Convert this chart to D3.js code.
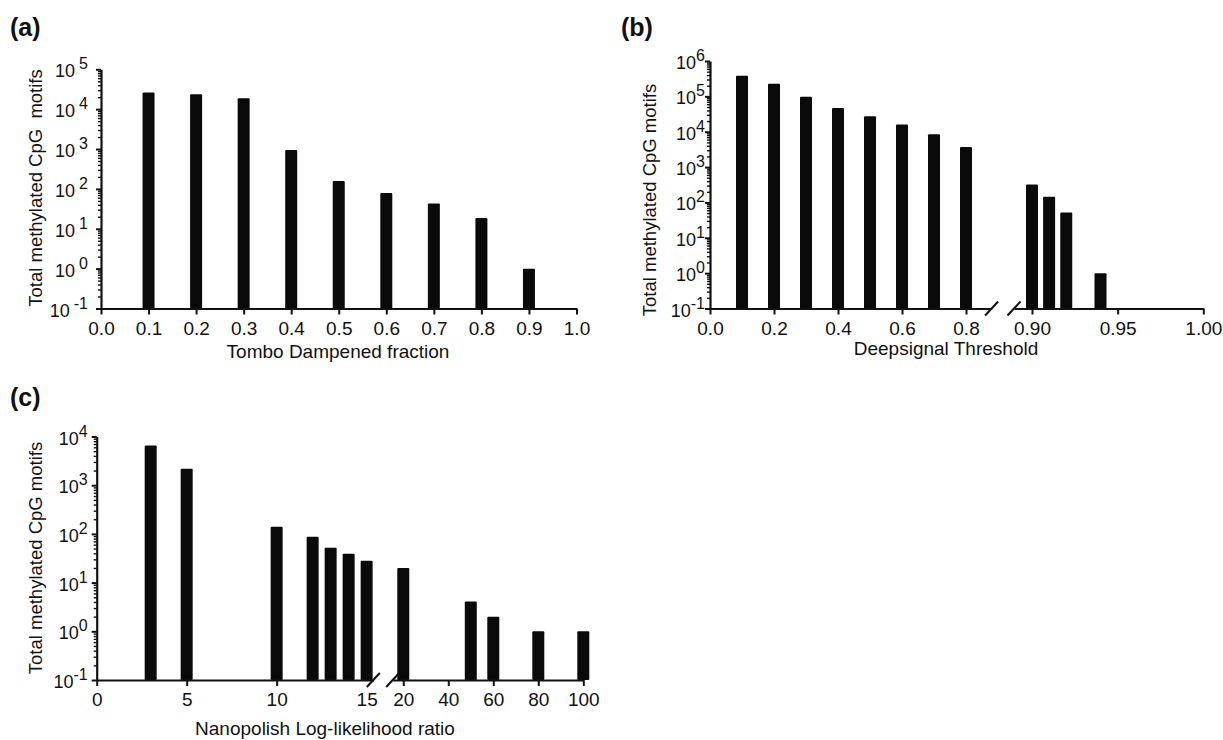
<!DOCTYPE html>
<html>
<head>
<meta charset="utf-8">
<script src="https://cdn.jsdelivr.net/npm/d3@7"></script>
<style>
    body { margin: 0; background: #fff; }
    svg text { font-family: "Liberation Sans", Arial, sans-serif; fill: #111; }
    .axis path, .axis line { stroke: #111; }
</style>
</head>
<body>
<svg id="chart" width="1223" height="740"></svg>
<script>
// (a) Tombo
var tomboX = [0.1, 0.2, 0.3, 0.4, 0.5, 0.6, 0.7, 0.8, 0.9];
var tomboCounts = [26000, 23700, 18800, 950, 158, 79, 43, 18.5, 1];
var tomboTicks = [0, 0.1, 0.2, 0.3, 0.4, 0.5, 0.6, 0.7, 0.8, 0.9, 1.0];
var tomboDecades = [-1, 0, 1, 2, 3, 4, 5];

// (b) Deepsignal
var deepX = [0.1, 0.2, 0.3, 0.4, 0.5, 0.6, 0.7, 0.8, 0.90, 0.91, 0.92, 0.94];
var deepCounts = [380000, 226000, 97000, 47000, 27500, 16000, 8500, 3700, 320, 145, 52, 1];
var deepTicksLow = [0, 0.2, 0.4, 0.6, 0.8];
var deepTicksHigh = [0.90, 0.95, 1.00];
var deepDecades = [-1, 0, 1, 2, 3, 4, 5, 6];

// (c) Nanopolish
var nanoX = [3, 5, 10, 12, 13, 14, 15, 20, 50, 60, 80, 100];
var nanoCounts = [6500, 2180, 140, 87, 52, 39, 28, 20, 4.1, 2, 1, 1];
var nanoTicksLow = [0, 5, 10, 15];
var nanoTicksHigh = [20, 40, 60, 80, 100];
var nanoDecades = [-1, 0, 1, 2, 3, 4];

var yTitle = "Total methylated CpG motifs";

var svg = d3.select("#chart");
var barW = 12;

function drawPanel(conf) {
    var g = svg.append("g");
    var exps = conf.decades;
    var y = d3.scaleLog()
        .domain([Math.pow(10, exps[0]), Math.pow(10, exps[exps.length - 1])])
        .range(conf.yRange);
    var baseY = conf.yRange[0];

    var segs = conf.segments.map(function (s) {
        return {
            scale: d3.scaleLinear().domain(s.domain).range(s.range),
            ticks: s.ticks, fmt: s.fmt, noTick: s.noTick || []
        };
    });

    function xPos(v) {
        var s = segs.filter(function (s) {
            return v >= s.scale.domain()[0] && v <= s.scale.domain()[1];
        })[0];
        return s.scale(v);
    }

    /*  bars  */
    g.selectAll(".bar")
        .data(d3.zip(conf.xs, conf.ys))
        .enter().append("rect")
        .attr("class", "bar")
        .attr("x", function (d) { return xPos(d[0]) - barW / 2; })
        .attr("y", function (d) { return y(d[1]); })
        .attr("width", barW)
        .attr("height", function (d) { return baseY - y(d[1]); })
        .attr("rx", 1)
        .attr("fill", "#0a0a0a");

    /*  x axes (one per segment)  */
    segs.forEach(function (s) {
        var ax = g.append("g")
            .attr("class", "axis")
            .attr("transform", "translate(0," + baseY + ")")
            .call(d3.axisBottom(s.scale).tickValues(s.ticks)
                .tickFormat(d3.format(s.fmt))
                .tickSize(6).tickSizeOuter(0).tickPadding(7));
        ax.select(".domain").attr("stroke-width", 2);
        ax.selectAll(".tick line").attr("stroke-width", 2);
        ax.selectAll(".tick text").attr("font-size", 19);
        ax.selectAll(".tick").filter(function (d) { return s.noTick.indexOf(d) >= 0; })
            .select("line").remove();
    });

    /*  break marks  */
    for (var i = 0; i < segs.length - 1; i++) {
        [segs[i].scale.range()[1], segs[i + 1].scale.range()[0]].forEach(function (bx) {
            g.append("line")
                .attr("x1", bx - 6.5).attr("y1", baseY + 7)
                .attr("x2", bx + 6.5).attr("y2", baseY - 7)
                .attr("stroke", "#111").attr("stroke-width", 2);
        });
    }

    /*  y axis: minor ticks then major ticks  */
    var majors = exps.map(function (e) { return Math.pow(10, e); });
    var minors = [];
    majors.slice(0, -1).forEach(function (m) {
        for (var k = 2; k <= 9; k++) minors.push(m * k);
    });

    var minorAx = g.append("g")
        .attr("class", "axis")
        .attr("transform", "translate(" + conf.axisX + ",0)")
        .call(d3.axisLeft(y).tickValues(minors).tickSize(3).tickFormat(""));
    minorAx.select(".domain").remove();
    minorAx.selectAll(".tick line").attr("stroke-width", 1.4);

    var yAx = g.append("g")
        .attr("class", "axis")
        .attr("transform", "translate(" + conf.axisX + ",0)")
        .call(d3.axisLeft(y).tickValues(majors).tickSize(5).tickSizeOuter(0));
    yAx.select(".domain").attr("stroke-width", 2.2);
    yAx.selectAll(".tick line").attr("stroke-width", 2);
    yAx.selectAll(".tick text").each(function (d) {
        var t = d3.select(this).text(null)
            .attr("x", -conf.labelOff).attr("dy", null).attr("y", 7.5);
        t.append("tspan").attr("font-size", 18).text("10");
        t.append("tspan").attr("font-size", 16).attr("dy", -8)
            .attr("dx", conf.supGap).text(Math.round(Math.log10(d)));
    });

    /*  titles  */
    g.append("text")
        .attr("transform", "translate(" + conf.yTitlePos[0] + "," + conf.yTitlePos[1] + ") rotate(-90)")
        .attr("text-anchor", "middle")
        .attr("font-size", 18.5)
        .style("white-space", "pre")
        .text(conf.yTitle);

    g.append("text")
        .attr("x", conf.xTitlePos[0]).attr("y", conf.xTitlePos[1])
        .attr("text-anchor", "middle")
        .attr("font-size", 19)
        .text(conf.xTitle);

    g.append("text")
        .attr("x", conf.tagPos[0]).attr("y", conf.tagPos[1])
        .attr("font-size", 25).attr("font-weight", "bold")
        .text(conf.tag);
}

drawPanel({
    tag: "(a)", tagPos: [10, 36],
    xs: tomboX, ys: tomboCounts, decades: tomboDecades,
    yRange: [308.5, 69.3], axisX: 101, labelOff: 13, supGap: 4,
    segments: [{ domain: [0, 1], range: [101, 576.5], ticks: tomboTicks, fmt: ".1f" }],
    yTitle: "Total methylated CpG  motifs", yTitlePos: [42, 188],
    xTitle: "Tombo Dampened fraction", xTitlePos: [338, 358]
});

drawPanel({
    tag: "(b)", tagPos: [621, 36],
    xs: deepX, ys: deepCounts, decades: deepDecades,
    yRange: [308.5, 61], axisX: 710, labelOff: 5, supGap: 0,
    segments: [
        { domain: [0, 0.88], range: [710, 991.6], ticks: deepTicksLow, fmt: ".1f" },
        { domain: [0.8895, 1.0], range: [1014, 1203.3], ticks: deepTicksHigh, fmt: ".2f" }
    ],
    yTitle: yTitle, yTitlePos: [656, 200],
    xTitle: "Deepsignal Threshold", xTitlePos: [946, 355]
});

drawPanel({
    tag: "(c)", tagPos: [10, 406],
    xs: nanoX, ys: nanoCounts, decades: nanoDecades,
    yRange: [680, 436.5], axisX: 96.7, labelOff: 9, supGap: 0,
    segments: [
        { domain: [0, 15.37], range: [96.7, 373.3], ticks: nanoTicksLow, fmt: "d", noTick: [15] },
        { domain: [15.3, 100], range: [392.7, 583.3], ticks: nanoTicksHigh, fmt: "d" }
    ],
    yTitle: yTitle, yTitlePos: [42, 558],
    xTitle: "Nanopolish Log-likelihood ratio", xTitlePos: [325, 735]
});
</script>
</body>
</html>
